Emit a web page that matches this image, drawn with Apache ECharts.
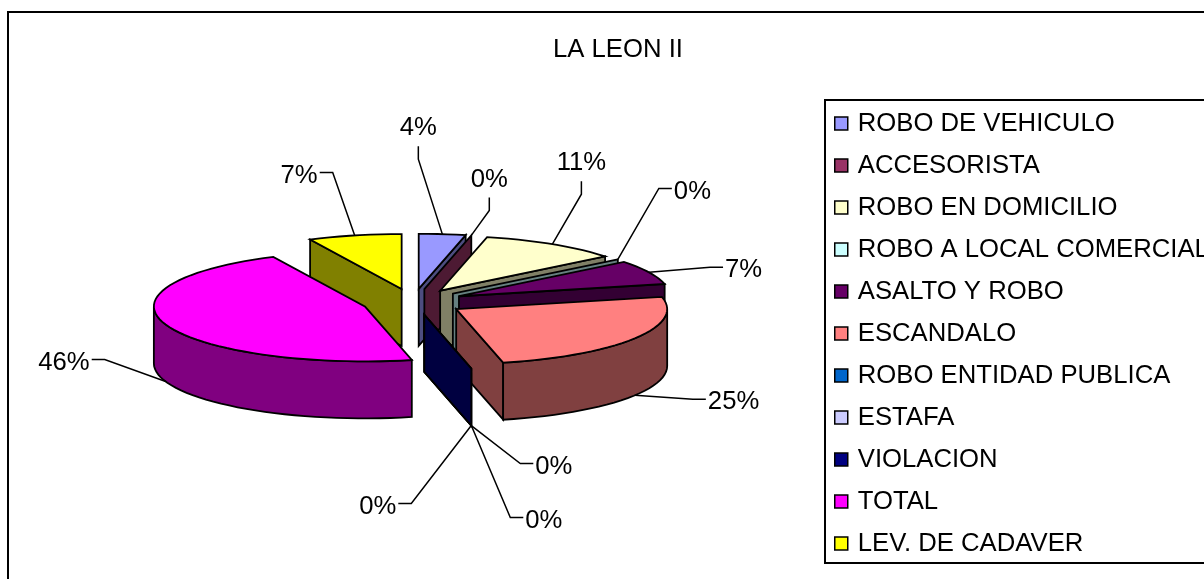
<!DOCTYPE html>
<html>
<head>
<meta charset="utf-8">
<style>
  html, body { margin: 0; padding: 0; background: #fff; overflow: hidden; }
  #chart { width: 1204px; height: 579px; }
</style>
</head>
<body>
<div id="chart"></div>
<script src="https://cdn.jsdelivr.net/npm/echarts@6/dist/echarts.min.js"></script>
<script>
// data
const titleText = 'LA LEON II';
const categories = ['ROBO DE VEHICULO', 'ACCESORISTA', 'ROBO EN DOMICILIO', 'ROBO A LOCAL COMERCIAL', 'ASALTO Y ROBO',
  'ESCANDALO', 'ROBO ENTIDAD PUBLICA', 'ESTAFA', 'VIOLACION', 'TOTAL', 'LEV. DE CADAVER'];
const caseCounts = [1, 0, 3, 0, 2, 7, 0, 0, 0, 13, 2];
const sliceColors = ['#9999FF', '#993366', '#FFFFCC', '#CCFFFF', '#660066', '#FF8080', '#0066CC', '#CCCCFF', '#000080', '#FF00FF', '#FFFF00'];

// leader line of each label: elbow offset from the slice, then the direction of the short stub
const leaderLayout = [
  [-24, -75, 'up'], [18, -25, 'up'], [29, -50, 'up'], [41, -71, 'right'], [61, -5, 'right'], [58, 4, 'right'],
  [49, 38, 'right'], [39, 92, 'right'], [-60, 78, 'left'], [-61, -22, 'left'], [-22, -63, 'left']
];

// pie geometry on screen
const center = [413, 302];
const radiusX = 211;
const radiusY = 55;
const depth = 57;
const explode = 51;
const fontName = '"Liberation Sans", Arial, sans-serif';
const labelSize = 25.7;

const total = caseCounts.reduce((a, b) => a + b, 0);
let running = 0;
const slices = caseCounts.map((v) => {
  const start = running / total * 360;
  running += v;
  return { start, end: running / total * 360 };
});

const rad = (d) => d * Math.PI / 180;

// half brightness for the walls, the way the old 3D pie shades them
function shade(hex) {
  const n = parseInt(hex.slice(1), 16);
  const half = (c) => Math.round(c / 2);
  return `rgb(${half((n >> 16) & 255)},${half((n >> 8) & 255)},${half(n & 255)})`;
}

function apexOf(i) {
  const mid = (slices[i].start + slices[i].end) / 2;
  return [
    center[0] + explode * Math.sin(rad(mid)),
    center[1] - explode * (radiusY / radiusX) * Math.cos(rad(mid))
  ];
}

function rimPoint(apex, deg, drop) {
  return [apex[0] + radiusX * Math.sin(rad(deg)), apex[1] - radiusY * Math.cos(rad(deg)) + (drop || 0)];
}

function arcPoints(apex, from, to, drop) {
  const pts = [];
  const steps = Math.max(1, Math.ceil((to - from) / 3));
  for (let k = 0; k <= steps; k++) {
    pts.push(rimPoint(apex, from + (to - from) * k / steps, drop));
  }
  return pts;
}

function poly(points, fill) {
  return { type: 'polygon', shape: { points }, style: { fill, stroke: '#000', lineWidth: 1.8 } };
}

function edgeWall(apex, deg, fill) {
  const rim = rimPoint(apex, deg);
  return poly([apex, rim, [rim[0], rim[1] + depth], [apex[0], apex[1] + depth]], fill);
}

function renderSlice(i) {
  const { start, end } = slices[i];
  const apex = apexOf(i);
  const wall = shade(sliceColors[i]);
  const children = [];
  // only the faces turned towards the viewer
  if (Math.cos(rad(start - 90)) < -0.01 && end > start) children.push(edgeWall(apex, start, wall));
  if (Math.cos(rad(end + 90)) < -0.01) children.push(edgeWall(apex, end, wall));
  const from = Math.max(start, 90);
  const to = Math.min(end, 270);
  if (to > from) {
    const upper = arcPoints(apex, from, to, 0);
    const lower = arcPoints(apex, from, to, depth).reverse();
    children.push(poly(upper.concat(lower), wall));
  }
  if (end > start) {
    children.push(poly([apex].concat(arcPoints(apex, start, end, 0)), sliceColors[i]));
  }
  return { type: 'group', children };
}

function renderLabel(i) {
  const { start, end } = slices[i];
  const mid = (start + end) / 2;
  const drop = Math.cos(rad(mid)) < 0 ? depth : 0;
  const anchor = rimPoint(apexOf(i), mid, drop);
  const [dx, dy, dir] = leaderLayout[i];
  const elbow = [anchor[0] + dx, anchor[1] + dy];
  const stubs = { up: [0, -13], right: [13, 0], left: [-13, 0] };
  const stub = [elbow[0] + stubs[dir][0], elbow[1] + stubs[dir][1]];
  const textStyle = {
    up: { x: stub[0], y: stub[1] - 5, align: 'center', verticalAlign: 'bottom' },
    right: { x: stub[0] + 2, y: stub[1] + 3, align: 'left', verticalAlign: 'middle' },
    left: { x: stub[0] - 2, y: stub[1] + 3, align: 'right', verticalAlign: 'middle' }
  }[dir];
  return {
    type: 'group',
    children: [
      { type: 'polyline', shape: { points: [anchor, elbow, stub] }, style: { fill: 'none', stroke: '#000', lineWidth: 1.5 } },
      {
        type: 'text',
        style: Object.assign({
          text: Math.round(caseCounts[i] / total * 100) + '%',
          fill: '#000',
          font: `${labelSize}px ${fontName}`
        }, textStyle)
      }
    ]
  };
}

// painted clockwise, with the last slice first because the big one sits over it
const drawOrder = [10, 9, 0, 1, 2, 3, 4, 5, 6, 7, 8];
const sliceSeries = drawOrder.map((i) => ({
  name: categories[i],
  type: 'custom',
  coordinateSystem: 'none',
  silent: true,
  itemStyle: { color: sliceColors[i] },
  data: [caseCounts[i]],
  renderItem: () => renderSlice(i)
}));
const labelSeries = {
  name: 'etiquetas',
  type: 'custom',
  coordinateSystem: 'none',
  silent: true,
  z: 5,
  data: caseCounts.map((v, i) => [i, v]),
  renderItem: (params, api) => renderLabel(api.value(0))
};

const chart = echarts.init(document.getElementById('chart'));
chart.setOption({
  animation: false,
  backgroundColor: '#fff',
  title: {
    text: titleText,
    left: 553,
    top: 37,
    padding: 0,
    textStyle: { fontFamily: fontName, fontSize: labelSize, fontWeight: 'normal', color: '#000' }
  },
  legend: {
    data: categories,
    orient: 'vertical',
    left: 825,
    top: 100,
    padding: [9, 60, 5, 9],
    itemWidth: 13,
    itemHeight: 13,
    itemGap: 13,
    icon: 'rect',
    selectedMode: false,
    borderColor: '#000',
    borderWidth: 2,
    itemStyle: { borderColor: '#000', borderWidth: 1.5 },
    textStyle: { fontFamily: fontName, fontSize: labelSize, color: '#000', padding: [0, 0, 0, 5], lineHeight: 29 }
  },
  graphic: [
    // chart frame, runs off the right and bottom of the picture
    { type: 'rect', z: -10, shape: { x: 8, y: 12, width: 1400, height: 800 }, style: { fill: 'none', stroke: '#000', lineWidth: 2 } }
  ],
  series: sliceSeries.concat(labelSeries)
});
window.addEventListener('resize', () => chart.resize());
</script>
</body>
</html>
